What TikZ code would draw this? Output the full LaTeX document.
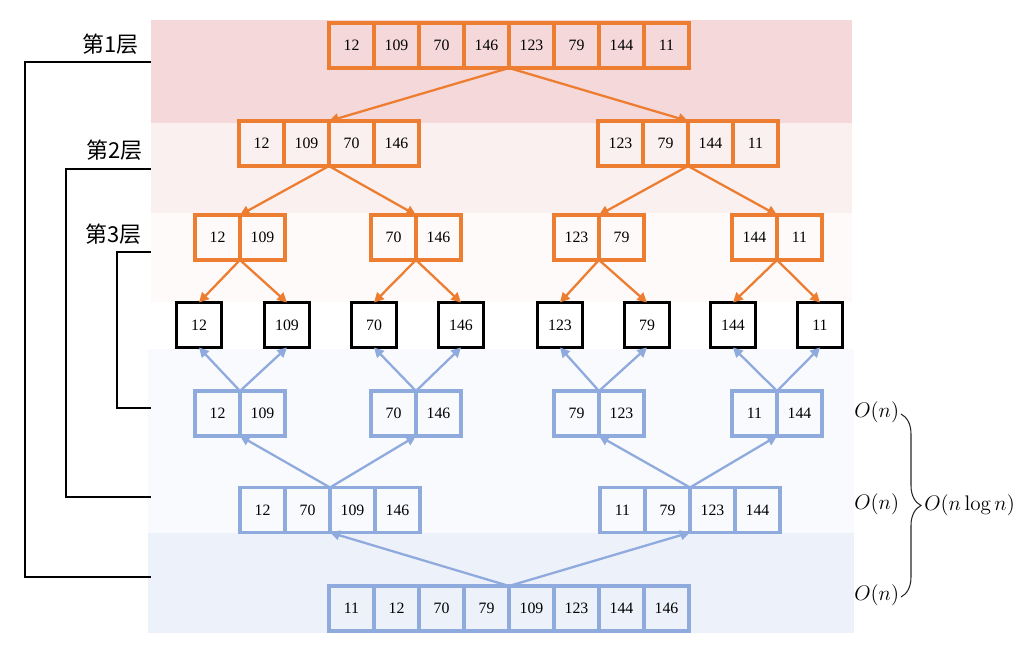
\documentclass[tikz,border=0pt]{standalone}
\usepackage{fontspec}
\newfontfamily\numf{Liberation Serif}
\newfontfamily\cjk{Noto Sans CJK SC}
\usetikzlibrary{arrows.meta,decorations.pathreplacing}
\definecolor{org}{HTML}{ED7D31}
\definecolor{blu}{HTML}{8FAADC}
\definecolor{bandA}{HTML}{F5D9DA}
\definecolor{bandB}{HTML}{FBF0F0}
\definecolor{bandC}{HTML}{FEFAFA}
\definecolor{bandD}{HTML}{F9FAFD}
\definecolor{bandE}{HTML}{EDF1FA}
\tikzset{
  cell/.style={draw, minimum width=0.9cm, minimum height=0.9cm, inner sep=0pt, outer sep=0pt,
    font=\numf\fontsize{9}{10}\selectfont, line width=1.8pt},
  ocell/.style={cell, draw=org},
  bcell/.style={cell, draw=blu},
  kcell/.style={cell, draw=black, line width=2.1pt},
  oarr/.style={draw=org, line width=1.3pt, -{Triangle[length=5.5pt,width=5.5pt]}},
  barr/.style={draw=blu, line width=1.3pt, -{Triangle[length=5.5pt,width=5.5pt]}},
  lab/.style={font=\cjk\fontsize{12.5}{14}\selectfont, inner sep=0pt, anchor=east},
  bracketline/.style={draw=black, line width=1.1pt},
  cplx/.style={font=\fontsize{12}{14}\selectfont, inner sep=0pt, anchor=west},
}
\begin{document}
\begin{tikzpicture}[x=0.02cm, y=-0.02cm]
\useasboundingbox (0,0) rectangle (1025,655);
% bands
\fill[bandA] (151,20) rectangle (852,123);
\fill[bandB] (151,123) rectangle (852,213);
\fill[bandC] (151,213) rectangle (852,302);
\fill[bandD] (148,349) rectangle (854,533);
\fill[bandE] (148,533) rectangle (854,633);
% split arrays
\foreach \v [count=\i] in {12,109,70,146,123,79,144,11}
  \node[ocell] (t\i) at ({351.5+45*(\i-1)},45.5) {\v};
\foreach \v [count=\i] in {12,109,70,146}
  \node[ocell] (a\i) at ({261.5+45*(\i-1)},143.5) {\v};
\foreach \v [count=\i] in {123,79,144,11}
  \node[ocell] (b\i) at ({620.5+45*(\i-1)},143.5) {\v};
\foreach \v [count=\i] in {12,109}
  \node[ocell] (c\i) at ({217.5+45*(\i-1)},237.5) {\v};
\foreach \v [count=\i] in {70,146}
  \node[ocell] (d\i) at ({393.5+45*(\i-1)},237.5) {\v};
\foreach \v [count=\i] in {123,79}
  \node[ocell] (e\i) at ({576.5+45*(\i-1)},237.5) {\v};
\foreach \v [count=\i] in {144,11}
  \node[ocell] (f\i) at ({754.5+45*(\i-1)},237.5) {\v};
% single elements
\foreach \v/\x [count=\i] in {12/199,109/287,70/374,146/461,123/560,79/647,144/733,11/820}
  \node[kcell] (k\i) at (\x,325) {\v};
% merge arrays
\foreach \v [count=\i] in {12,109}
  \node[bcell] (mg\i) at ({217.5+45*(\i-1)},413.5) {\v};
\foreach \v [count=\i] in {70,146}
  \node[bcell] (mh\i) at ({393.5+45*(\i-1)},413.5) {\v};
\foreach \v [count=\i] in {79,123}
  \node[bcell] (mi\i) at ({576.5+45*(\i-1)},413.5) {\v};
\foreach \v [count=\i] in {11,144}
  \node[bcell] (mj\i) at ({754.5+45*(\i-1)},413.5) {\v};
\foreach \v [count=\i] in {12,70,109,146}
  \node[bcell] (p\i) at ({262.5+45*(\i-1)},510) {\v};
\foreach \v [count=\i] in {11,79,123,144}
  \node[bcell] (q\i) at ({622.5+45*(\i-1)},510) {\v};
\foreach \v [count=\i] in {11,12,70,79,109,123,144,146}
  \node[bcell] (r\i) at ({351.5+45*(\i-1)},608.5) {\v};
% split arrows
\draw[oarr] (t4.south east) -- (a2.north east);
\draw[oarr] (t4.south east) -- (b2.north east);
\draw[oarr] (a2.south east) -- (c1.north east);
\draw[oarr] (a2.south east) -- (d1.north east);
\draw[oarr] (b2.south east) -- (e1.north east);
\draw[oarr] (b2.south east) -- (f1.north east);
\draw[oarr] (c1.south east) -- (k1.north);
\draw[oarr] (c1.south east) -- (k2.north);
\draw[oarr] (d1.south east) -- (k3.north);
\draw[oarr] (d1.south east) -- (k4.north);
\draw[oarr] (e1.south east) -- (k5.north);
\draw[oarr] (e1.south east) -- (k6.north);
\draw[oarr] (f1.south east) -- (k7.north);
\draw[oarr] (f1.south east) -- (k8.north);
% merge arrows
\draw[barr] (mg1.north east) -- (k1.south);
\draw[barr] (mg1.north east) -- (k2.south);
\draw[barr] (mh1.north east) -- (k3.south);
\draw[barr] (mh1.north east) -- (k4.south);
\draw[barr] (mi1.north east) -- (k5.south);
\draw[barr] (mi1.north east) -- (k6.south);
\draw[barr] (mj1.north east) -- (k7.south);
\draw[barr] (mj1.north east) -- (k8.south);
\draw[barr] (p2.north east) -- (mg1.south east);
\draw[barr] (p2.north east) -- (mh1.south east);
\draw[barr] (q2.north east) -- (mi1.south east);
\draw[barr] (q2.north east) -- (mj1.south east);
\draw[barr] (r4.north east) -- (p2.south east);
\draw[barr] (r4.north east) -- (q2.south east);
% level labels and brackets
\node[lab] (L1) at (139,44) {第1层};
\node[lab] (L2) at (143,150) {第2层};
\node[lab] (L3) at (142,234) {第3层};
\coordinate (s1) at (151,62);  \coordinate (e1c) at (151,577);
\coordinate (s2) at (151,169); \coordinate (e2c) at (151,497);
\coordinate (s3) at (151,252); \coordinate (e3c) at (151,408);
\draw[bracketline] (s1) -| (25,577) -- (e1c);
\draw[bracketline] (s2) -| (66,497) -- (e2c);
\draw[bracketline] (s3) -| (117,408) -- (e3c);
% complexity
\node[cplx] (o1) at (854,412) {$O(n)$};
\node[cplx] (o2) at (854,504) {$O(n)$};
\node[cplx] (o3) at (854,595) {$O(n)$};
\node[cplx] (ot) at (924,505) {$O(n\log n)$};
\draw[line width=0.6pt, black!85, decorate, decoration={brace, amplitude=0.4cm}] (901,414) -- (901,597);
\end{tikzpicture}
\end{document}
